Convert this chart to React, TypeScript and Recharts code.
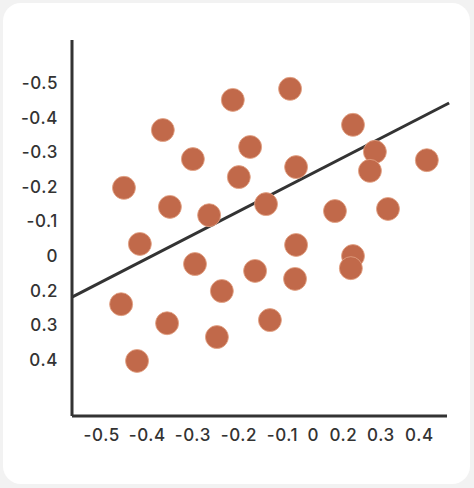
import React from "react";
import { ScatterChart, Scatter, XAxis, YAxis, ReferenceLine } from "recharts";

// Tick positions (plot units) and their printed labels
const xTickPos = [-0.501, -0.372, -0.243, -0.1125, 0.0106, 0.098, 0.183, 0.289, 0.398];
const xTickLabels = ["-0.5", "-0.4", "-0.3", "-0.2", "-0.1", "0", "0.2", "0.3", "0.4"];
const yTickPos = [-0.5, -0.4, -0.3, -0.2, -0.1, 0, 0.1, 0.2, 0.3];
const yTickLabels = ["-0.5", "-0.4", "-0.3", "-0.2", "-0.1", "0", "0.2", "0.3", "0.4"];

// Scatter points
const pointX = [
  -0.13, -0.328, -0.081, -0.243, -0.438, -0.113, -0.308, -0.197, -0.036, -0.393,
  0.032, 0.21, 0.272, 0.258, 0.419, 0.049, 0.159, 0.309, 0.049, 0.21,
  0.204, -0.237, -0.067, -0.161, -0.446, -0.316, -0.175, -0.401, -0.025, 0.046,
];
const pointY = [
  -0.451, -0.364, -0.315, -0.28, -0.197, -0.228, -0.142, -0.118, -0.15, -0.035,
  -0.483, -0.379, -0.301, -0.246, -0.277, -0.257, -0.13, -0.136, -0.032, 0.0,
  0.035, 0.023, 0.043, 0.101, 0.139, 0.194, 0.234, 0.303, 0.185, 0.066,
];

// Trend line end points
const lineX = [-0.585, 0.482];
const lineY = [0.1185, -0.442];

const points = pointX.map((x, i) => ({ x, y: pointY[i] }));

const tickStyle = {
  fill: "#333333",
  fontSize: 17,
  fontWeight: 500,
  letterSpacing: 0.6,
  fontFamily: "Inter, 'Noto Sans', sans-serif",
};

const Dot = (props: any) => {
  const { cx, cy } = props;
  return <circle cx={cx} cy={cy} r={11.5} fill="#c1694a" stroke="#e3a385" strokeWidth={0.8} />;
};

export default function App() {
  return (
    <div
      style={{
        position: "fixed",
        left: 0,
        top: 0,
        width: 474,
        height: 488,
        background: "#f2f2f2",
      }}
    >
      <div
        style={{
          position: "absolute",
          left: 3,
          top: 3,
          width: 467,
          height: 481,
          background: "#ffffff",
          borderRadius: 18,
        }}
      />
      <div style={{ position: "absolute", left: 0, top: 0 }}>
        <ScatterChart width={474} height={488} margin={{ top: 40, right: 27, bottom: 0, left: 0 }}>
          <XAxis
            type="number"
            dataKey="x"
            domain={[-0.585, 0.476]}
            allowDataOverflow
            ticks={xTickPos}
            interval={0}
            tickFormatter={(v: number) => xTickLabels[xTickPos.indexOf(v)] ?? ""}
            height={72}
            axisLine={{ stroke: "#333333", strokeWidth: 3 }}
            tickLine={false}
            tickSize={6}
            tickMargin={7}
            tick={tickStyle}
          />
          <YAxis
            type="number"
            dataKey="y"
            domain={[-0.624, 0.462]}
            reversed
            allowDataOverflow
            ticks={yTickPos}
            interval={0}
            tickFormatter={(v: number) => yTickLabels[yTickPos.indexOf(v)] ?? ""}
            width={72}
            axisLine={{ stroke: "#333333", strokeWidth: 3 }}
            tickLine={false}
            tickSize={6}
            tickMargin={8}
            tick={tickStyle}
          />
          <Scatter data={points} shape={Dot} isAnimationActive={false} />
          <ReferenceLine
            segment={[
              { x: lineX[0], y: lineY[0] },
              { x: lineX[1], y: lineY[1] },
            ]}
            stroke="#333333"
            strokeWidth={3}
            ifOverflow="visible"
          />
        </ScatterChart>
      </div>
    </div>
  );
}
